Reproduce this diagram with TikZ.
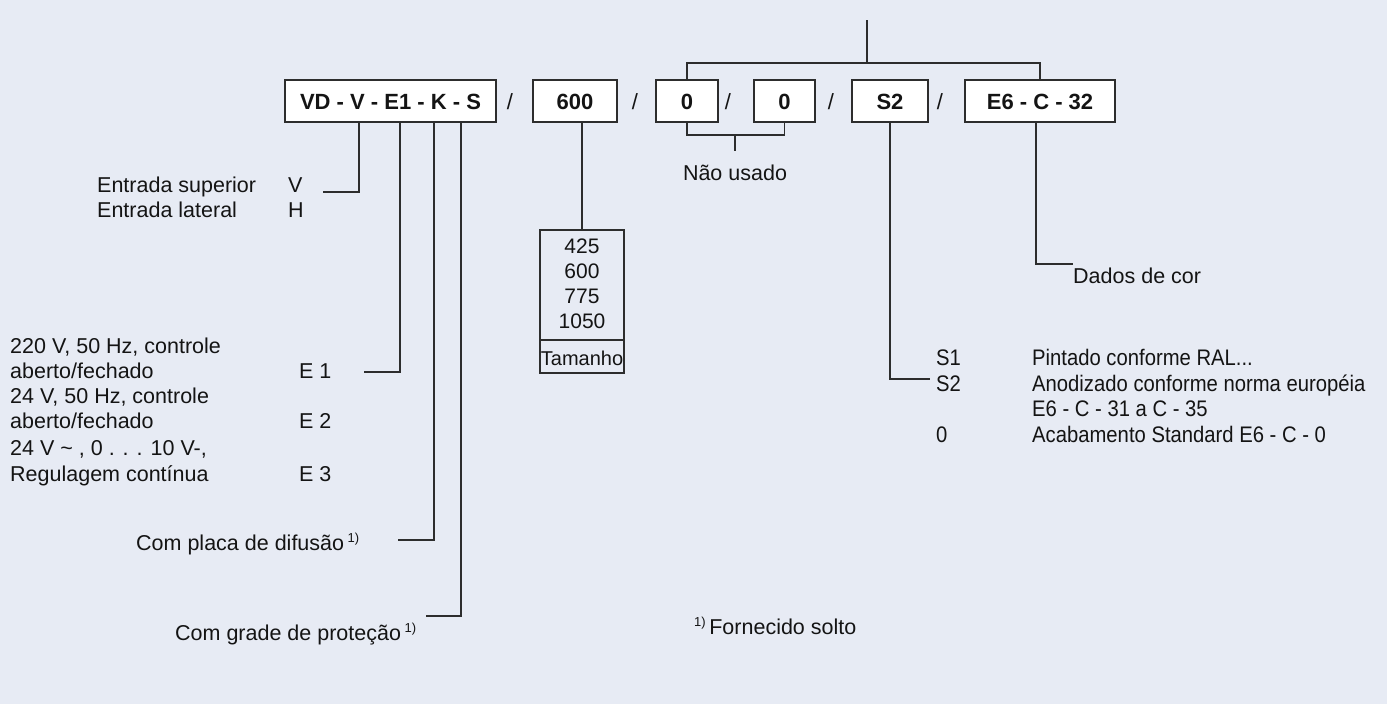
\documentclass[tikz,border=0pt]{standalone}
\usepackage{fontspec}
\setmainfont{Liberation Sans}
\newfontfamily\narrowfont[FakeStretch=0.9]{Liberation Sans}
\definecolor{bg}{RGB}{231,235,244}
\definecolor{linec}{RGB}{45,45,45}
\definecolor{txt}{RGB}{20,20,20}
\newcommand{\supone}{\,\raisebox{8pt}{\fontsize{13}{13}\selectfont 1)}}
\tikzset{
  conn/.style={draw=linec, line width=1.2pt},
  codebox/.style={draw=linec, fill=white, line width=1.3pt, inner sep=0pt,
    minimum height=42pt, text height=16pt, text depth=0pt, text=txt,
    font=\fontsize{22}{26}\selectfont\bfseries},
  lbl/.style={anchor=base west, inner sep=0pt, text=txt, font=\fontsize{21.5}{25}\selectfont},
  nlbl/.style={anchor=base west, inner sep=0pt, text=txt, font=\narrowfont\fontsize{22.5}{26}\selectfont},
  clbl/.style={anchor=base, inner sep=0pt, text=txt, font=\fontsize{21}{25}\selectfont},
  slash/.style={anchor=base, inner sep=0pt, text=txt, font=\fontsize{22}{26}\selectfont}
}
\begin{document}
\begin{tikzpicture}[x=1pt,y=-1pt]
\fill[bg] (0,0) rectangle (1387,704);
\useasboundingbox (0,0) rectangle (1387,704);

% code boxes
\node[codebox, minimum width=211pt] (b1) at (390.5,101) {VD - V - E1 - K - S};
\node[codebox, minimum width=84pt]  (b2) at (575,101) {600};
\node[codebox, minimum width=62pt]  (b3) at (687,101) {0};
\node[codebox, minimum width=61pt]  (b4) at (784.5,101) {0};
\node[codebox, minimum width=76pt]  (b5) at (890,101) {S2};
\node[codebox, minimum width=150pt] (b6) at (1040,101) {E6 - C - 32};

% slashes
\node[slash] (s1) at (510,109) {/};
\node[slash] (s2) at (635,109) {/};
\node[slash] (s3) at (728,109) {/};
\node[slash] (s4) at (831,109) {/};
\node[slash] (s5) at (940,109) {/};

% top bracket
\coordinate (topend) at (867,20);
\coordinate (topj) at (867,63);
\coordinate (tl) at (687,63);
\coordinate (tr) at (1040,63);
\draw[conn] (topend) -- (topj);
\draw[conn] (b3.north) -- (tl) -- (tr) -- (b6.north);

% bracket under the zeros
\coordinate (ul) at (687,135);
\coordinate (ur) at (784.5,135);
\coordinate (um) at (735,135);
\coordinate (umb) at (735,151);
\draw[conn] (b3.south) -- (ul) -- (ur) -- (b4.south);
\draw[conn] (um) -- (umb);
\node[lbl, anchor=base] (nu) at (735,180) {Não usado};

% left labels
\node[lbl] (t1) at (97,192) {Entrada superior};
\node[lbl] (t1c) at (288,192) {V};
\node[lbl] (t2) at (97,217) {Entrada lateral};
\node[lbl] (t2c) at (288,217) {H};
\node[lbl] (e1a) at (10,353) {220 V, 50 Hz, controle};
\node[lbl] (e1b) at (10,378) {aberto/fechado};
\node[lbl] (e1c) at (299,378) {E 1};
\node[lbl] (e2a) at (10,403) {24 V, 50 Hz, controle};
\node[lbl] (e2b) at (10,428) {aberto/fechado};
\node[lbl] (e2c) at (299,428) {E 2};
\node[lbl] (e3a) at (10,455) {24 V \textasciitilde\ , 0 . . . 10 V-,};
\node[lbl] (e3b) at (10,481) {Regulagem contínua};
\node[lbl] (e3c) at (299,481) {E 3};
\node[lbl] (kt) at (136,550) {Com placa de difusão\supone};
\node[lbl] (st) at (175,640) {Com grade de proteção\supone};

% left connectors
\coordinate (v1) at (359,192);  \coordinate (v2) at (323,192);
\coordinate (e1) at (400,372);  \coordinate (e2) at (364,372);
\coordinate (k1) at (434,540);  \coordinate (k2) at (398,540);
\coordinate (q1) at (461,616);  \coordinate (q2) at (426,616);
\draw[conn] (b1.south -| v1) -- (v1) -- (v2);
\draw[conn] (b1.south -| e1) -- (e1) -- (e2);
\draw[conn] (b1.south -| k1) -- (k1) -- (k2);
\draw[conn] (b1.south -| q1) -- (q1) -- (q2);

% size table
\node[draw=linec, line width=1.2pt, fill=none, inner sep=0pt, minimum width=84pt, minimum height=143pt] (tam) at (582,301.5) {};
\draw[conn] (b2.south -| tam.north) -- (tam.north);
\draw[draw=linec, line width=2.4pt] (540,340) -- (624,340);
\node[clbl] (n1) at (582,253) {425};
\node[clbl] (n2) at (582,278) {600};
\node[clbl] (n3) at (582,303) {775};
\node[clbl] (n4) at (582,328) {1050};
\node[clbl, font=\fontsize{20}{24}\selectfont] (n5) at (582,365) {Tamanho};

% right connectors
\coordinate (r1) at (890,379);  \coordinate (r2) at (930,379);
\coordinate (c1) at (1036,264); \coordinate (c2) at (1073,264);
\draw[conn] (b5.south) -- (r1) -- (r2);
\draw[conn] (b6.south -| c1) -- (c1) -- (c2);

% right labels
\node[lbl] (dc) at (1073,283) {Dados de cor};
\node[nlbl] (s1c) at (936,365) {S1};
\node[nlbl] (s1t) at (1032,365) {Pintado conforme RAL...};
\node[nlbl] (s2c) at (936,391) {S2};
\node[nlbl] (s2t) at (1032,391) {Anodizado conforme norma européia};
\node[nlbl] (s2u) at (1032,416) {E6 - C - 31 a C - 35};
\node[nlbl] (s0c) at (936,442) {0};
\node[nlbl] (s0t) at (1032,442) {Acabamento Standard E6 - C - 0};

% footnote
\node[lbl] (fn) at (694,634) {\raisebox{8pt}{\fontsize{13}{13}\selectfont 1)}\,Fornecido solto};
\end{tikzpicture}
\end{document}
